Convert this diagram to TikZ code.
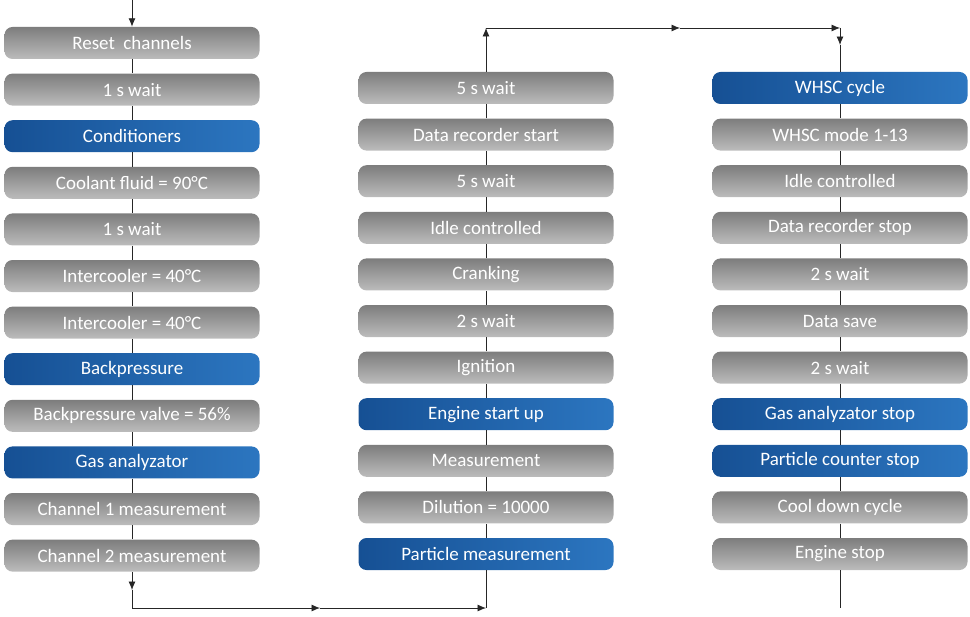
\documentclass[tikz,border=0pt]{standalone}
\usepackage{fontspec}
\setmainfont{Carlito}
\usetikzlibrary{positioning,arrows.meta}
\definecolor{grtop}{RGB}{125,125,125}
\definecolor{grbot}{RGB}{188,188,188}
\definecolor{blleft}{RGB}{22,80,148}
\definecolor{blright}{RGB}{44,118,192}

\begin{document}
\begin{tikzpicture} [>={Latex[length=6pt,width=5pt]}, node distance=0.351cm,
    stepbox/.style={rectangle,rounded corners=0.2cm,minimum width=6.375cm,minimum height=0.8cm,inner sep=0pt,
      text=white,font=\fontsize{13.5}{15}\selectfont,top color=grtop,bottom color=grbot,draw=none},
    bluebox/.style={stepbox,left color=blleft,right color=blright},
    link/.style={draw=black!85,line width=0.6pt}]
       \useasboundingbox (0,0) rectangle (24.25,-15.425);
       % first column
       \node [stepbox] (reset) at (3.3,-1.075) {Reset\ \ channels};
       \node [stepbox,below=of reset] (waitA) {1 s wait};
       \node [bluebox,below=of waitA] (cond) {Conditioners};
       \node [stepbox,below=of cond] (coolant) {Coolant fluid = 90°C};
       \node [stepbox,below=of coolant] (waitB) {1 s wait};
       \node [stepbox,below=of waitB] (interA) {Intercooler = 40°C};
       \node [stepbox,below=of interA] (interB) {Intercooler = 40°C};
       \node [bluebox,below=of interB] (backp) {Backpressure};
       \node [stepbox,below=of backp] (valve) {Backpressure valve = 56\%};
       \node [bluebox,below=of valve] (gas) {Gas analyzator};
       \node [stepbox,below=of gas] (chanA) {Channel 1 measurement};
       \node [stepbox,below=of chanA] (chanB) {Channel 2 measurement};
       % second column
       \node [stepbox] (waitC) at (12.15,-2.2) {5 s wait};
       \node [stepbox,below=of waitC] (recstart) {Data recorder start};
       \node [stepbox,below=of recstart] (waitD) {5 s wait};
       \node [stepbox,below=of waitD] (idleA) {Idle controlled};
       \node [stepbox,below=of idleA] (crank) {Cranking};
       \node [stepbox,below=of crank] (waitE) {2 s wait};
       \node [stepbox,below=of waitE] (ign) {Ignition};
       \node [bluebox,below=of ign] (startup) {Engine start up};
       \node [stepbox,below=of startup] (meas) {Measurement};
       \node [stepbox,below=of meas] (dil) {Dilution = 10000};
       \node [bluebox,below=of dil] (partm) {Particle measurement};
       % third column
       \node [bluebox] (whsc) at (21,-2.2) {WHSC cycle};
       \node [stepbox,below=of whsc] (mode) {WHSC mode 1-13};
       \node [stepbox,below=of mode] (idleB) {Idle controlled};
       \node [stepbox,below=of idleB] (recstop) {Data recorder stop};
       \node [stepbox,below=of recstop] (waitF) {2 s wait};
       \node [stepbox,below=of waitF] (save) {Data save};
       \node [stepbox,below=of save] (waitG) {2 s wait};
       \node [bluebox,below=of waitG] (gasstop) {Gas analyzator stop};
       \node [bluebox,below=of gasstop] (partstop) {Particle counter stop};
       \node [stepbox,below=of partstop] (cool) {Cool down cycle};
       \node [stepbox,below=of cool] (engstop) {Engine stop};
       % routing points
       \coordinate (in) at (3.3,0);
       \coordinate (downA) at (3.3,-14.75);
       \coordinate (cornA) at (3.3,-15.2);
       \coordinate (midA) at (8,-15.2);
       \coordinate (cornB) at (12.15,-15.2);
       \coordinate (cornC) at (12.15,-0.7);
       \coordinate (midB) at (17,-0.7);
       \coordinate (cornD) at (21,-0.7);
       \coordinate (downB) at (21,-1.125);
       \coordinate (out) at (21,-15.2);
       % connectors
       \draw [link,->] (in) -- (reset);
       \draw [link] (reset) -- (waitA) -- (cond) -- (coolant) -- (waitB) -- (interA) -- (interB)
         -- (backp) -- (valve) -- (gas) -- (chanA) -- (chanB);
       \draw [link,->] (chanB) -- (downA);
       \draw [link] (downA) -- (cornA);
       \draw [link,->] (cornA) -- (midA);
       \draw [link,->] (midA) -- (cornB);
       \draw [link] (cornB) -- (partm) -- (dil) -- (meas) -- (startup) -- (ign) -- (waitE) -- (crank)
         -- (idleA) -- (waitD) -- (recstart) -- (waitC);
       \draw [link,->] (waitC) -- (cornC);
       \draw [link,->] (cornC) -- (midB);
       \draw [link,->] (midB) -- (cornD);
       \draw [link,->] (cornD) -- (downB);
       \draw [link] (downB) -- (whsc) -- (mode) -- (idleB) -- (recstop) -- (waitF) -- (save) -- (waitG)
         -- (gasstop) -- (partstop) -- (cool) -- (engstop) -- (out);
    \end{tikzpicture}
\end{document}
